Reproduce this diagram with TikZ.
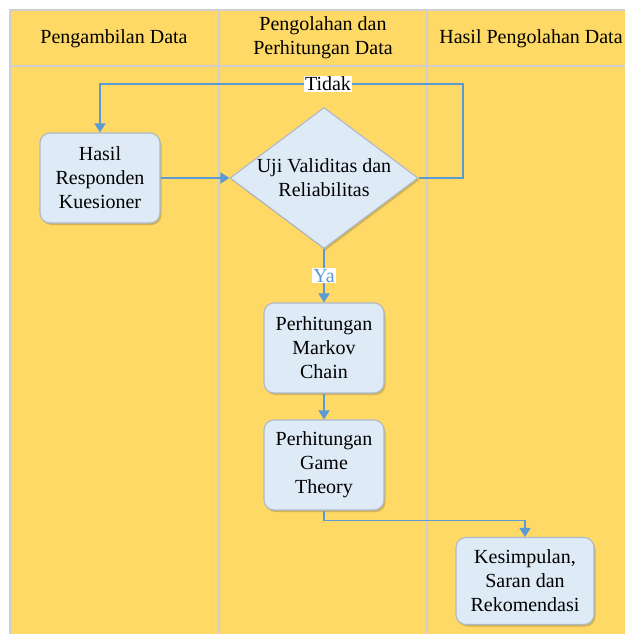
\documentclass[tikz,border=0pt]{standalone}
\usepackage{fontspec}
\setmainfont{Liberation Serif}
\newfontfamily\huruf{Liberation Serif}
\usetikzlibrary{shapes.geometric,arrows.meta,positioning,shadows}
\definecolor{lajur}{HTML}{FFD966}
\definecolor{garis}{HTML}{D0CECE}
\definecolor{kotak}{HTML}{DEEBF7}
\definecolor{tepi}{HTML}{ADB9CA}
\definecolor{panah}{HTML}{5B9BD5}

\begin{document}
\begin{tikzpicture}[x=1pt,y=-1pt,
	font=\huruf\fontsize{20}{24}\selectfont,
	bayang/.style={drop shadow={shadow xshift=1.5pt,shadow yshift=-2pt,opacity=0.25,fill=black!70!lajur}},
	proses/.style={draw=tepi,fill=kotak,line width=1.1pt,rounded corners=10pt,minimum width=120pt,minimum height=90pt,align=center,inner sep=2pt,bayang},
	keputusan/.style={diamond,draw=tepi,fill=kotak,line width=1.1pt,minimum width=188pt,minimum height=141pt,inner sep=0pt,bayang},
	alur/.style={draw=panah,line width=1.6pt,-{Triangle[length=9pt,width=11pt]}},
	label/.style={fill=white,inner sep=1pt}]
	\useasboundingbox (0,0) rectangle (625,634);
	% lajur
	\fill [lajur] (10,10) rectangle (625,634);
	\draw [garis,line width=2pt] (10,634) -- (10,10) -- (625,10);
	\draw [garis,line width=2pt] (10,66) -- (625,66);
	\draw [garis,line width=2pt] (219,10) -- (219,634);
	\draw [garis,line width=2pt] (427,10) -- (427,634);
	\node (judul1) at (114,39) {Pengambilan Data};
	\node [align=center] (judul2) at (323,38) {Pengolahan dan\\Perhitungan Data};
	\node (judul3) at (531,39) {Hasil Pengolahan Data};
	% langkah
	\node [proses] (hasil) at (100,178) {Hasil\\Responden\\Kuesioner};
	\node [keputusan] (uji) at (324,178) {};
	\node [align=center] (ujiteks) at (uji) {Uji Validitas dan\\Reliabilitas};
	\node [proses] (markov) at (324,348) {Perhitungan\\Markov\\Chain};
	\node [proses] (game) at (324,465) {Perhitungan\\Game\\Theory};
	\node [proses,minimum width=138pt,minimum height=87pt] (simpul) at (525,581) {Kesimpulan,\\Saran dan\\Rekomendasi};
	% panah
	\coordinate (balik) at (463,84);
	\draw [alur] (hasil) -- (uji);
	\draw [alur] (uji.east) -| (balik) -| (hasil.north);
	\node [label] (tidak) at (328,84) {Tidak};
	\draw [alur] (uji.south) -- node [label,text=panah] (ya) {Ya} (markov.north);
	\draw [alur] (markov) -- (game);
	\draw [alur] (game.south) -- ++(0,10) -| (simpul.north);
\end{tikzpicture}
\end{document}
